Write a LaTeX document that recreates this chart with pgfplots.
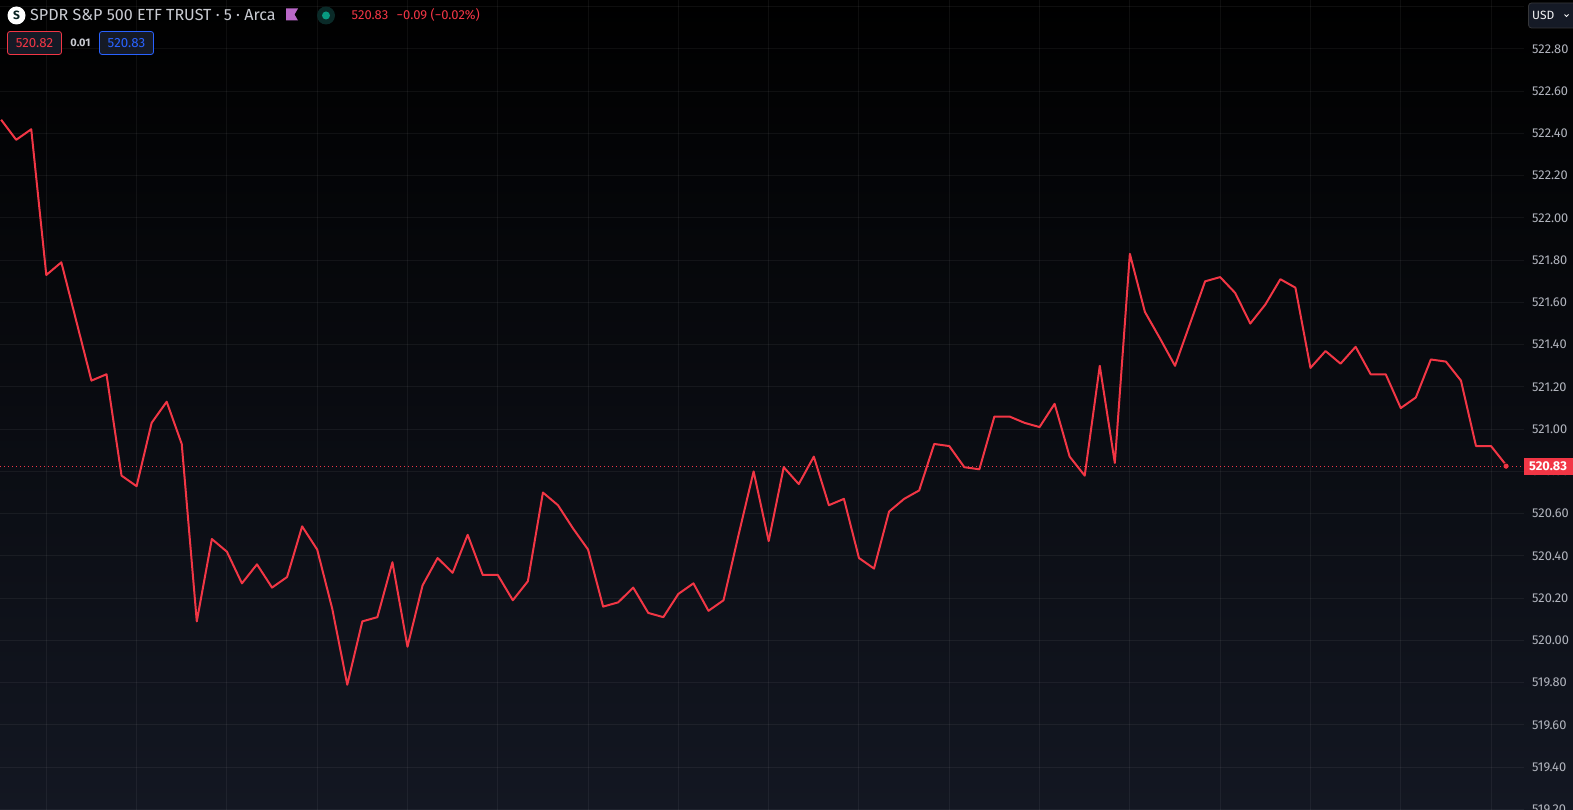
\documentclass[border=0pt]{standalone}
\usepackage{pgfplots}
\pgfplotsset{compat=1.18}
\usepackage{fontspec}
\setmainfont{Fira Sans}
\definecolor{tvred}{HTML}{F23645}
\definecolor{tvtxt}{HTML}{B2B5BE}
\definecolor{tvblue}{HTML}{2962FF}
\definecolor{tvbot}{HTML}{131722}
\definecolor{tvbox}{HTML}{151A26}
\definecolor{tvpurple}{HTML}{BA68C8}
\definecolor{tvgreen}{HTML}{089981}
\definecolor{tvhalo}{HTML}{0A2A28}
\begin{document}
\begin{tikzpicture}[x=1pt,y=1pt]
\path[use as bounding box] (0,0) rectangle (1573,810);
\clip (0,0) rectangle (1573,810);
\shade[top color=black,bottom color=tvbot] (0,0) rectangle (1573,810);
\begin{axis}[
  at={(0pt,0pt)},anchor=south west,scale only axis,
  width=1524pt,height=810pt,
  xmin=-0.076,xmax=101.19,ymin=519.197,ymax=523.032,
  axis line style={draw=none},
  major tick length=0pt,
  xtick={3,9,15,21,27,33,39,45,51,57,63,69,75,81,87,93,99},
  xticklabels={},
  ytick={519.2,519.4,519.6,519.8,520.0,520.2,520.4,520.6,520.8,521.0,521.2,521.4,521.6,521.8,522.0,522.2,522.4,522.6,522.8,523.0},
  yticklabels={519.20,519.40,519.60,519.80,520.00,520.20,520.40,520.60,520.80,521.00,521.20,521.40,521.60,521.80,522.00,522.20,522.40,522.60,522.80,{}},
  yticklabel pos=right,
  yticklabel style={anchor=west,xshift=8pt,inner sep=0pt,text=tvtxt,font=\fontsize{12.8}{14}\selectfont},
  grid=major,
  major grid style={draw=white,opacity=0.055,line width=1pt},
]
\addplot[tvred,line width=1pt,dash pattern=on 1.3pt off 2.7pt] coordinates {(-0.076,520.825) (101.19,520.825)};
\addplot[tvred,line width=2pt,line join=round,mark=none] coordinates {
(0,522.465)(1,522.37)(2,522.42)(3,521.73)(4,521.79)(5,521.51)(6,521.23)(7,521.26)(8,520.78)(9,520.73)
(10,521.03)(11,521.13)(12,520.93)(13,520.09)(14,520.48)(15,520.42)(16,520.27)(17,520.36)(18,520.25)(19,520.30)
(20,520.54)(21,520.43)(22,520.15)(23,519.79)(24,520.09)(25,520.11)(26,520.37)(27,519.97)(28,520.26)(29,520.39)
(30,520.32)(31,520.50)(32,520.31)(33,520.31)(34,520.19)(35,520.28)(36,520.70)(37,520.64)(38,520.53)(39,520.43)
(40,520.16)(41,520.18)(42,520.25)(43,520.13)(44,520.11)(45,520.22)(46,520.27)(47,520.14)(48,520.19)(49,520.50)
(50,520.80)(51,520.47)(52,520.82)(53,520.74)(54,520.87)(55,520.64)(56,520.67)(57,520.39)(58,520.34)(59,520.61)
(60,520.67)(61,520.71)(62,520.93)(63,520.92)(64,520.82)(65,520.81)(66,521.06)(67,521.06)(68,521.03)(69,521.01)
(70,521.12)(71,520.87)(72,520.78)(73,521.30)(74,520.84)(75,521.83)(76,521.555)(77,521.43)(78,521.30)(79,521.50)
(80,521.70)(81,521.72)(82,521.645)(83,521.50)(84,521.59)(85,521.71)(86,521.67)(87,521.29)(88,521.37)(89,521.31)
(90,521.39)(91,521.26)(92,521.26)(93,521.10)(94,521.15)(95,521.33)(96,521.32)(97,521.23)(98,520.92)(99,520.92)
(100,520.83)};
\addplot[only marks,mark=*,mark size=3pt,mark options={fill=tvred,draw=none}] coordinates {(100,520.825)};
\end{axis}
% price tag
\fill[tvred] (1524,335) rectangle (1573,352.3);
\node[anchor=center,inner sep=0pt,text=white,font=\fontsize{12.8}{14}\selectfont\bfseries] at (1548,343.6) {520.83};
% header
\fill[white] (16.5,794.5) circle (9);
\node[inner sep=0pt,text=tvhalo!80!black,font=\fontsize{12}{14}\selectfont\bfseries] at (16.5,794.5) {S};
\node[anchor=base west,inner sep=0pt,text=tvtxt!70!white,font=\fontsize{16.1}{18}\selectfont] at (30,789.5) {SPDR S\&P 500 ETF TRUST · 5 · Arca};
\fill[tvpurple] (286,801.5) -- (298,801.5) -- (294.5,795.5) -- (298,789.5) -- (286,789.5) -- cycle;
\fill[tvhalo] (326,794.5) circle (9);
\fill[tvgreen] (326,794.5) circle (4);
\node[anchor=base west,inner sep=0pt,text=tvred,font=\fontsize{13}{15}\selectfont] at (351.5,790) {520.83};
\node[anchor=base west,inner sep=0pt,text=tvred,font=\fontsize{13}{15}\selectfont] at (396.5,790) {−0.09 (−0.02\%)};
\draw[tvred,fill=tvbox,rounded corners=2.5pt,line width=0.8pt] (7.5,755.5) rectangle (61.5,778.5);
\node[inner sep=0pt,text=tvred,font=\fontsize{13.3}{15}\selectfont] at (34.5,767) {520.82};
\node[inner sep=0pt,text=tvtxt!70!white,font=\fontsize{11}{13}\selectfont\bfseries] at (80.5,767) {0.01};
\draw[tvblue,fill=tvbox,rounded corners=2.5pt,line width=0.8pt] (99.5,755.5) rectangle (153.5,778.5);
\node[inner sep=0pt,text=tvblue,font=\fontsize{13.3}{15}\selectfont] at (126.5,767) {520.83};
% currency
\draw[fill=tvbox,draw=tvtxt!30!black,rounded corners=3pt,line width=0.8pt] (1528.5,782) rectangle (1580,807);
\node[anchor=west,inner sep=0pt,text=white!85!tvtxt,font=\fontsize{12}{14}\selectfont] at (1532,794.5) {USD};
\draw[white!85!tvtxt,line width=0.9pt] (1564.5,795.5) -- (1566.5,793.5) -- (1568.5,795.5);
\end{tikzpicture}
\end{document}
